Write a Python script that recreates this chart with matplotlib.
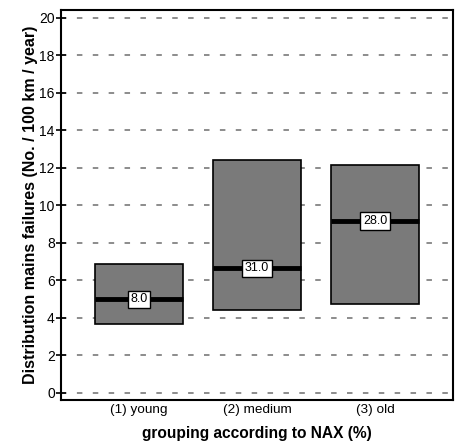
import matplotlib.pyplot as plt
import numpy as np

plt.rcParams['font.family'] = ['Liberation Sans', 'DejaVu Sans']

# data
groups = ["(1) young", "(2) medium", "(3) old"]
lower = [3.68, 4.44, 4.76]
upper = [6.85, 12.4, 12.14]
median = [4.98, 6.63, 9.15]
counts = ["8.0", "31.0", "28.0"]

fig = plt.figure(figsize=(4.6, 4.43), dpi=100)
ax = fig.add_axes([61 / 460, 1 - 400 / 443, 392 / 460, 390 / 443])

x = np.arange(1, len(groups) + 1)
w = 0.746
heights = np.array(upper) - np.array(lower)

ax.set_axisbelow(True)
ax.yaxis.grid(True, linestyle=(0, (3.6, 6.8)), color='#6e6e6e', linewidth=1.1)

ax.bar(x, heights, bottom=lower, width=w, color='#7a7a7a', edgecolor='black',
       linewidth=1.2, zorder=2)
ax.hlines(median, x - w / 2, x + w / 2, colors='black', linewidth=3.5, zorder=3)

for xi, m, c in zip(x, median, counts):
    ax.text(xi, m, c, ha='center', va='center', fontsize=9, zorder=4,
            bbox=dict(boxstyle='square,pad=0.22', facecolor='white',
                      edgecolor='black', linewidth=1))

ax.set_xlim(0.339, 3.661)
ax.set_ylim(-0.38, 20.4)
ax.set_yticks(np.arange(0, 21, 2))
ax.set_xticks(x)
ax.set_xticklabels(groups, fontsize=9.7)
ax.tick_params(axis='y', direction='inout', length=7, width=1.2, labelsize=10, pad=1)
ax.tick_params(axis='x', length=0, pad=3)

for s in ax.spines.values():
    s.set_linewidth(1.5)

ax.set_xlabel("grouping according to NAX (%)", fontsize=11.2, fontweight='bold', labelpad=7)
ax.set_ylabel("Distribution mains failures (No. / 100 km / year)", fontsize=11.5,
              fontweight='bold', labelpad=1)

fig.savefig("out.png", dpi=100)
